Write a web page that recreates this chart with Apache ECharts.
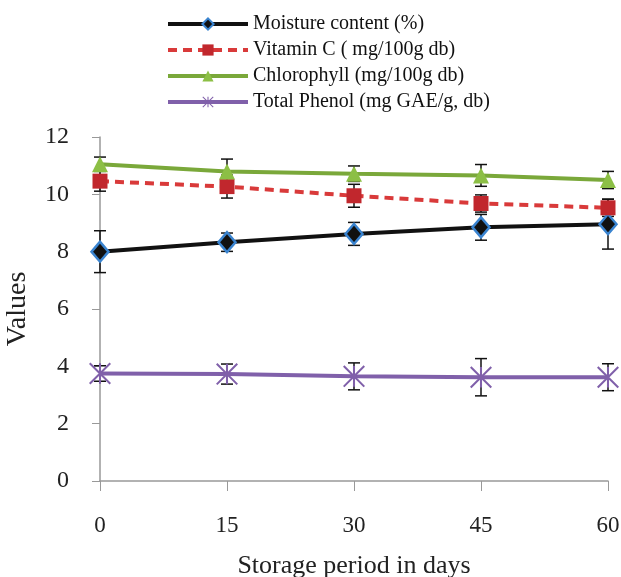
<!DOCTYPE html>
<html>
<head>
<meta charset="utf-8">
<script src="https://cdn.jsdelivr.net/npm/echarts@6/dist/echarts.min.js"></script>
<style>
  html, body { margin: 0; padding: 0; background: #fff; }
  #chart { width: 621px; height: 577px; }
</style>
</head>
<body>
<div id="chart"></div>
<script>
// storage days
var days = [0, 15, 30, 45, 60];

var moisture = [8.0, 8.33, 8.62, 8.85, 8.96];
var moistureErr = [0.73, 0.32, 0.4, 0.45, 0.87];

var vitaminC = [10.46, 10.27, 9.95, 9.68, 9.53];
var vitaminCErr = [0.35, 0.4, 0.4, 0.3, 0.3];

var chlorophyll = [11.05, 10.8, 10.72, 10.66, 10.5];
var chlorophyllErr = [0.25, 0.43, 0.27, 0.38, 0.3];

var phenol = [3.75, 3.73, 3.65, 3.62, 3.62];
var phenolErr = [0.27, 0.35, 0.47, 0.65, 0.47];

var serif = '"Liberation Serif", "DejaVu Serif", serif';

// asterisk marker (vertical bar + two diagonals)
var asterisk = 'path://M-1,-10 L-1,10 L1,10 L1,-10 Z ' +
  'M-10.7,-9.3 L9.3,10.7 L10.7,9.3 L-9.3,-10.7 Z ' +
  'M10.7,-9.3 L9.3,-10.7 L-10.7,9.3 L-9.3,10.7 Z';

function pairs(vals) {
  return days.map(function (d, i) { return [d, vals[i]]; });
}

function errData(vals, errs) {
  return days.map(function (d, i) { return [d, vals[i] - errs[i], vals[i] + errs[i]]; });
}

function errorSeries(vals, errs) {
  return {
    type: 'custom',
    silent: true,
    z: 1,
    data: errData(vals, errs),
    renderItem: function (params, api) {
      var lo = api.coord([api.value(0), api.value(1)]);
      var hi = api.coord([api.value(0), api.value(2)]);
      var w = 6;
      var style = { stroke: '#111', lineWidth: 1.5 };
      return {
        type: 'group',
        children: [
          { type: 'line', shape: { x1: lo[0], y1: lo[1], x2: hi[0], y2: hi[1] }, style: style },
          { type: 'line', shape: { x1: lo[0] - w, y1: lo[1], x2: lo[0] + w, y2: lo[1] }, style: style },
          { type: 'line', shape: { x1: hi[0] - w, y1: hi[1], x2: hi[0] + w, y2: hi[1] }, style: style }
        ]
      };
    }
  };
}

var chart = echarts.init(document.getElementById('chart'));
chart.setOption({
  animation: false,
  backgroundColor: '#fff',
  legend: {
    orient: 'vertical',
    left: 161,
    top: 9,
    itemWidth: 80,
    itemHeight: 14,
    itemGap: 6,
    lineStyle: { width: 4 },
    textStyle: { fontFamily: serif, fontSize: 20, color: '#111' },
    data: ['Moisture content (%)', 'Vitamin C ( mg/100g db)', 'Chlorophyll (mg/100g db)', 'Total Phenol (mg GAE/g, db)']
  },
  grid: { left: 100, right: 13, top: 137, bottom: 96, outerBoundsMode: 'none' },
  xAxis: {
    type: 'value',
    min: 0,
    max: 60,
    interval: 15,
    name: 'Storage period in days',
    nameLocation: 'middle',
    nameGap: 72,
    nameTextStyle: { fontFamily: serif, fontSize: 26, color: '#222' },
    axisLine: { lineStyle: { color: '#999', width: 1.5 } },
    axisTick: { show: true, length: 10, lineStyle: { color: '#999' } },
    axisLabel: { margin: 33, fontFamily: serif, fontSize: 23, color: '#222' },
    splitLine: { show: false }
  },
  yAxis: {
    type: 'value',
    min: 0,
    max: 12,
    interval: 2,
    name: 'Values',
    nameLocation: 'middle',
    nameGap: 68,
    nameMoveOverlap: false,
    nameTextStyle: { fontFamily: serif, fontSize: 28, color: '#222' },
    axisLine: { show: true, lineStyle: { color: '#999', width: 1.5 } },
    axisTick: { show: true, length: 8, lineStyle: { color: '#999' } },
    axisLabel: { margin: 31, fontFamily: serif, fontSize: 24, color: '#222' },
    splitLine: { show: false }
  },
  series: [
    errorSeries(moisture, moistureErr),
    errorSeries(vitaminC, vitaminCErr),
    errorSeries(chlorophyll, chlorophyllErr),
    errorSeries(phenol, phenolErr),
    {
      name: 'Moisture content (%)',
      type: 'line',
      z: 3,
      data: pairs(moisture),
      symbol: 'diamond',
      symbolSize: [17, 20],
      lineStyle: { color: '#111', width: 4 },
      itemStyle: { color: '#111', borderColor: '#3a84d0', borderWidth: 2.5 }
    },
    {
      name: 'Vitamin C ( mg/100g db)',
      type: 'line',
      z: 3,
      data: pairs(vitaminC),
      symbol: 'rect',
      symbolSize: 15,
      lineStyle: { color: '#d93a3a', width: 4, type: [9, 6] },
      itemStyle: { color: '#c1272d' }
    },
    {
      name: 'Chlorophyll (mg/100g db)',
      type: 'line',
      z: 3,
      data: pairs(chlorophyll),
      symbol: 'triangle',
      symbolSize: [16, 16],
      lineStyle: { color: '#7aa83a', width: 4 },
      itemStyle: { color: '#8cbf45' }
    },
    {
      name: 'Total Phenol (mg GAE/g, db)',
      type: 'line',
      z: 3,
      data: pairs(phenol),
      symbol: asterisk,
      symbolSize: 22,
      lineStyle: { color: '#8060aa', width: 4 },
      itemStyle: { color: '#8060aa' }
    }
  ]
});
</script>
</body>
</html>
